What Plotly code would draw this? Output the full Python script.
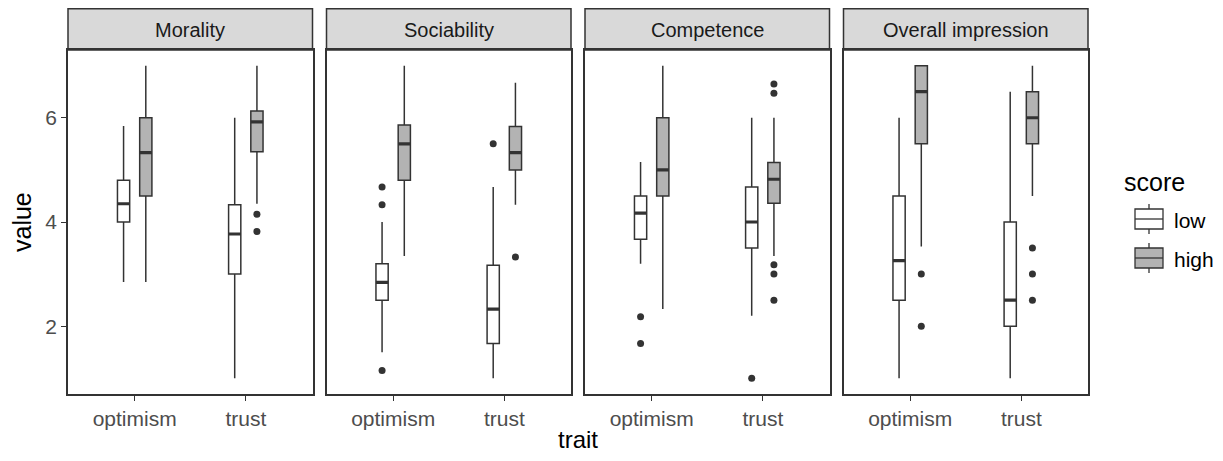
import plotly.graph_objects as go

facets = ["Morality", "Sociability", "Competence", "Overall impression"]
traits = ["optimism", "trust"]
scores = ["low", "high"]

# per facet: [optimism, trust]
low_lower = [[2.85, 1.0], [1.5, 1.0], [3.2, 2.2], [1.0, 1.0]]
low_q1 = [[4.0, 3.0], [2.5, 1.67], [3.67, 3.5], [2.5, 2.0]]
low_med = [[4.35, 3.77], [2.84, 2.33], [4.17, 4.0], [3.26, 2.5]]
low_q3 = [[4.8, 4.33], [3.2, 3.17], [4.5, 4.67], [4.5, 4.0]]
low_upper = [[5.84, 6.0], [4.0, 4.67], [5.15, 6.0], [6.0, 6.5]]

high_lower = [[2.85, 4.35], [3.35, 4.33], [2.33, 3.35], [3.53, 4.5]]
high_q1 = [[4.5, 5.35], [4.8, 5.0], [4.5, 4.36], [5.5, 5.5]]
high_med = [[5.33, 5.92], [5.5, 5.33], [5.0, 4.82], [6.5, 6.0]]
high_q3 = [[6.0, 6.13], [5.86, 5.83], [6.0, 5.14], [7.0, 6.5]]
high_upper = [[7.0, 7.0], [7.0, 6.67], [7.0, 6.0], [7.0, 7.0]]

low_outliers = [[[], []], [[4.67, 4.33, 1.15], [5.5]], [[2.18, 1.67], [1.0]], [[], []]]
high_outliers = [[[], [4.15, 3.82]], [[], [3.33]], [[], [6.65, 6.47, 3.18, 3.0, 2.5]],
                 [[3.0, 2.0], [3.5, 3.0, 2.5]]]

y_ticks = [2, 4, 6]

# ---- styling ----
PAGE_MARGIN = 8          # default <body> margin of the page
W, H = 1223 - 2 * PAGE_MARGIN, 461 - 2 * PAGE_MARGIN
LINE = "#333333"
FILL = {"low": "#FFFFFF", "high": "#B3B3B3"}
OFFSET = {"low": -0.1, "high": 0.1}
BOXW = 0.11
FONT = "Liberation Sans, Arial, sans-serif"
SMALL = 21
BIG = 25

# target positions in screenshot pixels
panel_left = [68, 326.5, 585, 843.5]
panel_w = 244.5
panel_top, panel_bot, strip_top = 50, 394, 8


def px(x):
    return (x - PAGE_MARGIN) / W


def py(y):
    return 1 - (y - PAGE_MARGIN) / H


stats = {
    "low": (low_lower, low_q1, low_med, low_q3, low_upper, low_outliers),
    "high": (high_lower, high_q1, high_med, high_q3, high_upper, high_outliers),
}

fig = go.Figure()
for i, facet in enumerate(facets):
    xa = "x" if i == 0 else f"x{i+1}"
    ya = "y" if i == 0 else f"y{i+1}"
    for s in scores:
        lo, q1, me, q3, up, outl = stats[s]
        xs = [k + 1 + OFFSET[s] for k in range(len(traits))]
        fig.add_trace(go.Box(
            x=xs, q1=q1[i], median=me[i], q3=q3[i],
            lowerfence=lo[i], upperfence=up[i],
            width=BOXW, whiskerwidth=0, boxpoints=False,
            fillcolor=FILL[s], line=dict(color=LINE, width=1.5),
            xaxis=xa, yaxis=ya, showlegend=False, hoverinfo="skip",
        ))
        # thick median
        mx, my = [], []
        for k in range(len(traits)):
            mx += [xs[k] - BOXW / 2, xs[k] + BOXW / 2, None]
            my += [me[i][k], me[i][k], None]
        fig.add_trace(go.Scatter(x=mx, y=my, mode="lines",
                                 line=dict(color=LINE, width=3.2),
                                 xaxis=xa, yaxis=ya, showlegend=False, hoverinfo="skip"))
        ox, oy = [], []
        for k in range(len(traits)):
            for v in outl[i][k]:
                ox.append(xs[k])
                oy.append(v)
        if ox:
            fig.add_trace(go.Scatter(x=ox, y=oy, mode="markers",
                                     marker=dict(color=LINE, size=7),
                                     xaxis=xa, yaxis=ya, showlegend=False, hoverinfo="skip"))

layout = dict(
    width=W, height=H, margin=dict(l=0, r=0, t=0, b=0),
    paper_bgcolor="white", plot_bgcolor="white",
    font=dict(family=FONT, color="#4D4D4D"),
    showlegend=False,
)
shapes, annotations = [], []
for i, facet in enumerate(facets):
    sfx = "" if i == 0 else str(i + 1)
    x0, x1 = panel_left[i], panel_left[i] + panel_w
    layout["xaxis" + sfx] = dict(
        domain=[px(x0), px(x1)], range=[0.4, 2.6],
        tickvals=[1, 2], ticktext=traits,
        ticks="outside", ticklen=5, tickwidth=1.3, tickcolor=LINE,
        tickfont=dict(size=SMALL, color="#4D4D4D", family=FONT),
        showgrid=False, zeroline=False,
        showline=True, mirror=True, linecolor=LINE, linewidth=1.5,
        anchor="y" + sfx, fixedrange=True,
    )
    layout["yaxis" + sfx] = dict(
        domain=[py(panel_bot), py(panel_top)], range=[0.7, 7.3],
        tickvals=y_ticks, ticks="outside" if i == 0 else "", ticklen=5,
        tickwidth=1.3, tickcolor=LINE,
        showticklabels=(i == 0),
        tickfont=dict(size=SMALL, color="#4D4D4D", family=FONT),
        showgrid=False, zeroline=False,
        showline=True, mirror=True, linecolor=LINE, linewidth=1.5,
        anchor="x" + sfx, fixedrange=True,
    )
    shapes.append(dict(type="rect", xref="paper", yref="paper",
                       x0=px(x0), x1=px(x1), y0=py(panel_top), y1=py(strip_top + 0.8),
                       fillcolor="#D9D9D9", line=dict(color=LINE, width=1.5), layer="below"))
    annotations.append(dict(text=facet, xref="paper", yref="paper",
                            x=px((x0 + x1) / 2), y=py((strip_top + panel_top) / 2 + 1),
                            showarrow=False, xanchor="center", yanchor="middle",
                            font=dict(size=SMALL - 1, color="#1A1A1A", family=FONT)))

# axis titles
annotations.append(dict(text="trait", xref="paper", yref="paper", x=px(578), y=py(439),
                        showarrow=False, xanchor="center", yanchor="middle",
                        font=dict(size=BIG - 1, color="#000000", family=FONT)))
annotations.append(dict(text="value", xref="paper", yref="paper", x=px(22), y=py(222),
                        showarrow=False, xanchor="center", yanchor="middle", textangle=-90,
                        font=dict(size=BIG, color="#000000", family=FONT)))

# custom legend (decoration)
annotations.append(dict(text="score", xref="paper", yref="paper", x=px(1122), y=py(182),
                        showarrow=False, xanchor="left", yanchor="middle",
                        font=dict(size=BIG, color="#000000", family=FONT)))
for j, s in enumerate(scores):
    cy = 219 + j * 39
    kx0, kx1 = 1135, 1163
    kxm = (kx0 + kx1) / 2
    shapes.append(dict(type="line", xref="paper", yref="paper", x0=px(kxm), x1=px(kxm),
                       y0=py(cy - 15), y1=py(cy + 15), line=dict(color=LINE, width=1.3)))
    shapes.append(dict(type="rect", xref="paper", yref="paper", x0=px(kx0), x1=px(kx1),
                       y0=py(cy - 10), y1=py(cy + 10), fillcolor=FILL[s],
                       line=dict(color=LINE, width=1.3)))
    shapes.append(dict(type="line", xref="paper", yref="paper", x0=px(kx0), x1=px(kx1),
                       y0=py(cy), y1=py(cy), line=dict(color=LINE, width=1.3)))
    annotations.append(dict(text=s, xref="paper", yref="paper", x=px(1172), y=py(cy + 1),
                            showarrow=False, xanchor="left", yanchor="middle",
                            font=dict(size=SMALL, color="#000000", family=FONT)))

layout["shapes"] = shapes
layout["annotations"] = annotations
fig.update_layout(**layout)
fig.write_html("out.html", config={"displayModeBar": False})
